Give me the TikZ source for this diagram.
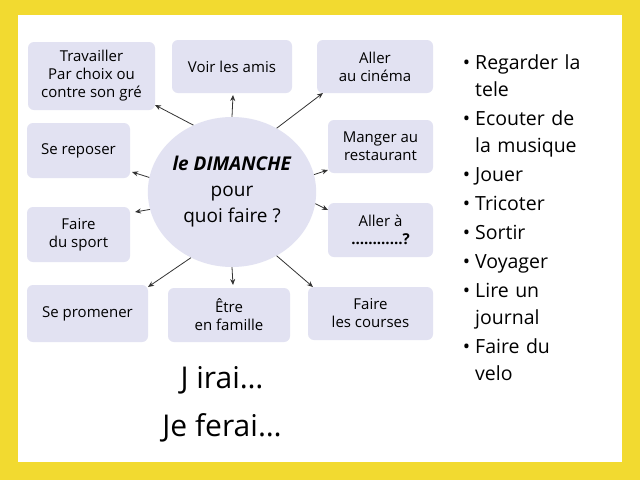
\documentclass[tikz,border=0pt]{standalone}
\usepackage{fontspec}
\setmainfont{Open Sans}
\usetikzlibrary{positioning,arrows.meta,shapes.geometric}
\definecolor{sunyellow}{RGB}{242,218,48}
\definecolor{lavender}{RGB}{226,226,242}
\tikzset{
   activity/.style = {draw=none, fill=lavender, rounded corners=6pt, align=center,
      font=\fontsize{15}{18}\selectfont},
   toact/.style = {-{Stealth[length=6pt,width=5pt]}, thick, black!80},
}
\begin{document}
\begin{tikzpicture}[x=1pt,y=-1pt]
   % slide
   \fill[sunyellow] (0,0) rectangle (640,480);
   \fill[white] (18,15) rectangle (622,462);
   \useasboundingbox (0,0) rectangle (640,480);

   % centre
   \node[ellipse, fill=lavender, minimum width=164, minimum height=150, inner sep=0,
      align=center, font=\fontsize{19}{26}\selectfont] (dim) at (232,192)
      {\textbf{\textit{le DIMANCHE}}\\pour\\quoi faire ?};

   % activities
   \node[activity, minimum width=127, minimum height=68] (trav) at (91.5,76) {Travailler\\Par choix ou\\contre son gré};
   \node[activity, minimum width=120, minimum height=53] (amis) at (232,66.5) {Voir les amis};
   \node[activity, minimum width=116, minimum height=53] (cine) at (375,66.5) {Aller\\au cinéma};
   \node[activity, minimum width=105, minimum height=53] (resto) at (380.5,146.5) {Manger au\\restaurant};
   \node[activity, minimum width=105, minimum height=54] (alla) at (380.5,230) {Aller à\\\textbf{…………?}};
   \node[activity, minimum width=125, minimum height=53] (cour) at (370.5,313.5) {Faire\\les courses};
   \node[activity, minimum width=122, minimum height=54] (fam) at (229,315) {Être\\en famille};
   \node[activity, minimum width=121, minimum height=57] (prom) at (87.5,313.5) {Se promener};
   \node[activity, minimum width=103, minimum height=55] (sport) at (78.5,234.5) {Faire\\du sport};
   \node[activity, minimum width=103, minimum height=55] (repos) at (78.5,150.5) {Se reposer};

   % arrows
   \draw[toact] (dim.north) -- (233,95);
   \draw[toact] (dim.120) -- (155,105);
   \draw[toact] (dim.55) -- (323,93);
   \draw[toact] (dim.12) -- (328,170);
   \draw[toact] (dim.170) -- (132,172);
   \draw[toact] (dim.192) -- (135,212);
   \draw[toact] (dim.-8) -- (328,210);
   \draw[toact] (dim.-122) -- (148,287);
   \draw[toact] (dim.south) -- (233,285);
   \draw[toact] (dim.-55) -- (313,287);

   % list
   \node[anchor=north west, text width=138, inner sep=0,
      font=\fontsize{19.5}{27}\selectfont] (list) at (450,34)
   {\begin{itemize}\setlength{\itemsep}{2pt}\setlength{\parskip}{0pt}\raggedright
      \item Regarder la tele
      \item Ecouter de la musique
      \item Jouer
      \item Tricoter
      \item Sortir
      \item Voyager
      \item Lire un journal
      \item Faire du velo
   \end{itemize}};

   \node[align=center, font=\fontsize{30}{48}\selectfont] (futur) at (222,404) {J irai…\\Je ferai…};
\end{tikzpicture}
\end{document}
